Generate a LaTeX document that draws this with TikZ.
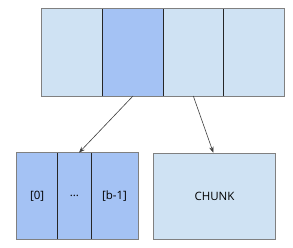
\documentclass[tikz,border=0pt]{standalone}
\usepackage{fontspec}
\setmainfont{Open Sans}
\usetikzlibrary{arrows.meta}
\definecolor{lightc}{HTML}{CFE2F3}
\definecolor{darkc}{HTML}{A4C2F4}
\tikzset{
  cell/.style={minimum height=86.7pt, inner sep=0pt, anchor=north west, font=\fontsize{11.5}{13}\selectfont},
  divider/.style={draw=black!85, line width=0.8pt},
  outer/.style={draw=black!50, line width=1pt},
  conn/.style={draw=black!75, line width=0.6pt, -{Stealth[length=6pt,width=4.5pt]}}
}
\begin{document}
\begin{tikzpicture}[x=1pt,y=-1pt]
\useasboundingbox[fill=white] (0,0) rectangle (293,248);
% top row
\node[cell, fill=lightc, minimum width=60.5pt] (t1) at (42,9) {};
\node[cell, fill=darkc, minimum width=60.5pt] (t2) at (102.5,9) {};
\node[cell, fill=lightc, minimum width=60.5pt] (t3) at (163,9) {};
\node[cell, fill=lightc, minimum width=60.5pt] (t4) at (223.5,9) {};
\draw[divider] (t2.north west) -- (t2.south west);
\draw[divider] (t3.north west) -- (t3.south west);
\draw[divider] (t4.north west) -- (t4.south west);
\draw[outer] (t1.north west) rectangle (t4.south east);
% bottom left
\node[cell, fill=darkc, minimum width=40.6pt] (b1) at (16.7,152.7) {[0]};
\node[cell, fill=darkc, minimum width=33.7pt] (b2) at (57.3,152.7) {...};
\node[cell, fill=darkc, minimum width=46.7pt] (b3) at (91,152.7) {[b-1]};
\draw[divider] (b2.north west) -- (b2.south west);
\draw[divider] (b3.north west) -- (b3.south west);
\draw[outer] (b1.north west) rectangle (b3.south east);
% chunk
\node[cell, fill=lightc, minimum width=122.6pt, outer] (ch) at (152.7,152.7) {CHUNK};
% connectors
\coordinate (s1) at (133,96);
\coordinate (s2) at (193.3,96);
\draw[conn] (s1) -- (b2.north -| 79,0);
\draw[conn] (s2) -- (ch.north -| 213.3,0);
\end{tikzpicture}
\end{document}
